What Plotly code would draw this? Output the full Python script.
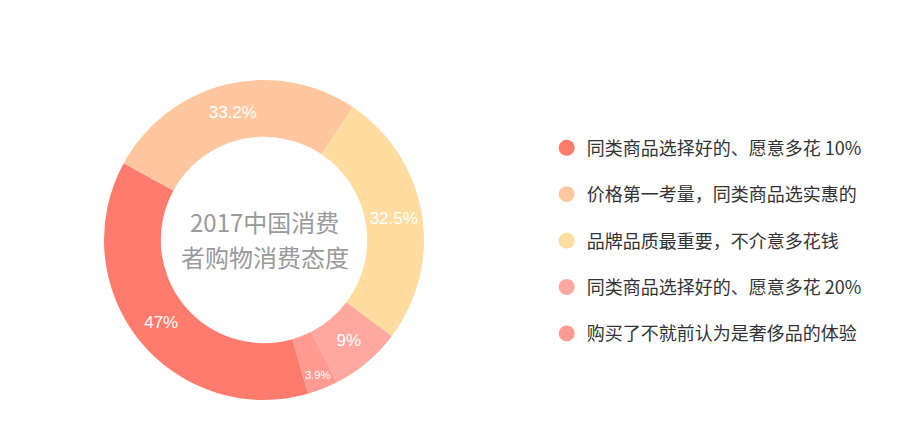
import plotly.graph_objects as go

# 2017 consumer attitudes donut
categories = [
    "同类商品选择好的、愿意多花 10%",
    "价格第一考量，同类商品选实惠的",
    "品牌品质最重要，不介意多花钱",
    "同类商品选择好的、愿意多花 20%",
    "购买了不就前认为是奢侈品的体验",
]
values = [47, 33.2, 32.5, 9, 3.9]
colors = ["#ff7b6e", "#ffc7a0", "#ffdca0", "#ffa8a0", "#ff9b90"]
center_lines = ["2017中国消费", "者购物消费态度"]

font_cjk = "Noto Sans CJK SC, Microsoft YaHei, sans-serif"

fig = go.Figure()

fig.add_trace(go.Pie(
    labels=categories,
    values=values,
    marker=dict(colors=colors, line=dict(width=0)),
    hole=0.645,
    sort=False,
    direction="clockwise",
    rotation=164,
    texttemplate="%{value}%",
    textinfo="text",
    textposition="inside",
    insidetextorientation="horizontal",
    insidetextfont=dict(color="white", size=17, family="Helvetica, Arial, sans-serif"),
    domain=dict(x=[0.1039, 0.4502], y=[0.123, 0.839]),
    showlegend=False,
    hoverinfo="label+value",
))

# legend with round markers
for name, c in zip(categories, colors):
    fig.add_trace(go.Scatter(
        x=[None], y=[None], mode="markers", name=name,
        marker=dict(color=c, size=20, symbol="circle"),
        legendgroup=name, showlegend=True,
    ))

# centre text, two lines spaced like the original
for i, line in enumerate(center_lines):
    fig.add_annotation(
        text=line, xref="paper", yref="paper",
        x=0.278, y=0.523 - 0.078 * i,
        xanchor="center", yanchor="middle", showarrow=False,
        font=dict(size=24, color="#9a9a9a", family=font_cjk),
    )

fig.update_layout(
    width=924, height=447,
    margin=dict(l=0, r=0, t=0, b=0),
    paper_bgcolor="white",
    plot_bgcolor="white",
    xaxis=dict(visible=False),
    yaxis=dict(visible=False),
    legend=dict(
        x=0.583, y=0.728, xanchor="left", yanchor="top",
        font=dict(size=18, color="#333333", family=font_cjk),
        tracegroupgap=20,
        itemsizing="trace",
    ),
)

fig.write_html("out.html")
